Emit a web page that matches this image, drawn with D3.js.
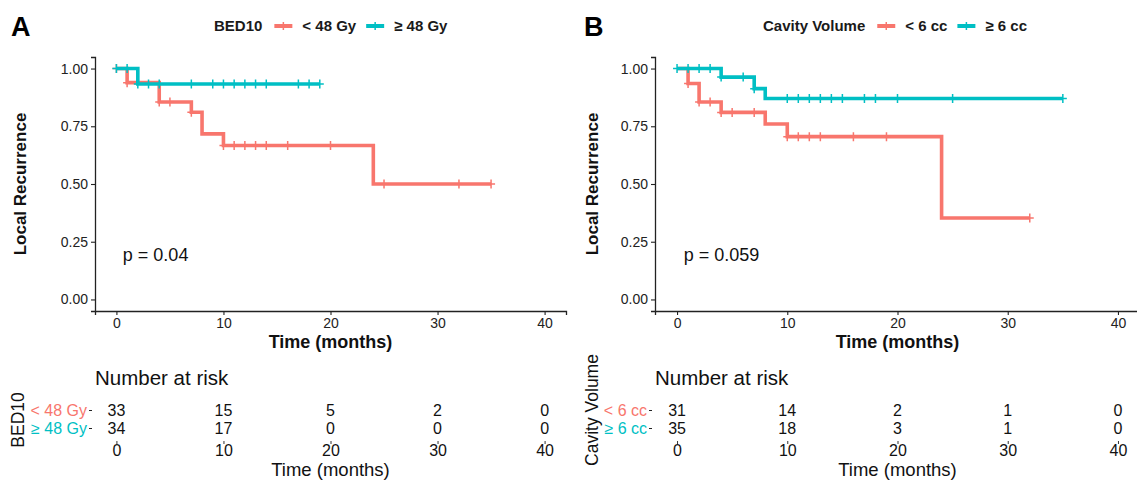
<!DOCTYPE html>
<html><head><meta charset="utf-8">
<script src="https://cdn.jsdelivr.net/npm/d3@7"></script>
<style>
body{margin:0;background:#fff;}
svg{font-family:"Liberation Sans",Arial,sans-serif;}
</style></head>
<body><svg id="c" width="1137" height="482"></svg>
<script>
// ---------- data ----------
const timeTicks = [0, 10, 20, 30, 40];
const survTicks = [0, 0.25, 0.5, 0.75, 1];
const colors = ["#F8766D", "#00BFC4"];

// Panel A: BED10
const aGroups = ["< 48 Gy", "≥ 48 Gy"];
const aLowTimes = [0, 1, 4, 7, 8, 10, 24];
const aLowSurv = [1, 0.939, 0.855, 0.811, 0.717, 0.667, 0.5];
const aLowEnd = 35;
const aLowCensor = [0, 1, 4, 5, 7, 10, 11, 12, 13, 14, 16, 20, 25, 32, 35];
const aHighTimes = [0, 2];
const aHighSurv = [1, 0.933];
const aHighEnd = 19;
const aHighCensor = [0, 1, 2, 3, 4, 7, 9, 10, 11, 12, 13, 14, 17, 18, 19];
const aRiskLow = [33, 15, 5, 2, 0];
const aRiskHigh = [34, 17, 0, 0, 0];
const aPval = "p = 0.04";

// Panel B: Cavity Volume
const bGroups = ["< 6 cc", "≥ 6 cc"];
const bLowTimes = [0, 1, 2, 4, 8, 10, 24];
const bLowSurv = [1, 0.935, 0.855, 0.81, 0.76, 0.705, 0.353];
const bLowEnd = 32;
const bLowCensor = [1, 2, 3, 4, 5, 7, 10, 11, 12, 13, 16, 19, 32];
const bHighTimes = [0, 4, 7, 8];
const bHighSurv = [1, 0.963, 0.913, 0.87];
const bHighEnd = 35;
const bHighCensor = [0, 1, 2, 3, 4, 6, 7, 10, 11, 12, 13, 14, 15, 17, 18, 20, 25, 35];
const bRiskLow = [31, 14, 2, 1, 0];
const bRiskHigh = [35, 18, 3, 1, 0];
const bPval = "p = 0.059";

// ---------- drawing ----------
const svg = d3.select("#c");
const FF = "Liberation Sans, Arial, sans-serif";

function survAt(times, surv, t){
  let s = surv[0];
  for (let i=0;i<times.length;i++){ if (times[i] <= t) s = surv[i]; }
  return s;
}

function panel(cfg){
  const g = svg.append("g");
  const x = d3.scaleLinear().domain([-2, 42]).range([cfg.x0, cfg.x1]);
  const y = d3.scaleLinear().domain([-0.05, 1.05]).range([311, 57]);

  // letter
  g.append("text").attr("x", cfg.letterX).attr("y", 36).attr("font-size", 27)
    .attr("font-weight", "bold").attr("fill", "#000").text(cfg.letter);

  // legend
  const lg = g.append("g").attr("font-size", 15).attr("font-weight", "bold").attr("fill", "#1a1a1a");
  let lx = cfg.legendX;
  const ly = 26;
  const t0 = lg.append("text").attr("x", lx).attr("y", ly).attr("dy", "0.35em").text(cfg.title);
  lx += t0.node().getComputedTextLength() + 12;
  cfg.groups.forEach((name, i) => {
    lg.append("line").attr("x1", lx).attr("x2", lx+18).attr("y1", ly).attr("y2", ly)
      .attr("stroke", colors[i]).attr("stroke-width", 4);
    lg.append("line").attr("x1", lx+9).attr("x2", lx+9).attr("y1", ly-4).attr("y2", ly+4)
      .attr("stroke", colors[i]).attr("stroke-width", 1.5);
    lx += 28;
    const t = lg.append("text").attr("x", lx).attr("y", ly).attr("dy", "0.35em").text(name);
    lx += t.node().getComputedTextLength() + 10;
  });

  // axes
  const ax = g.append("g").attr("transform", `translate(0,311)`)
    .call(d3.axisBottom(x).tickValues(timeTicks).tickSize(4).tickPadding(3));
  const ay = g.append("g").attr("transform", `translate(${cfg.x0},0)`)
    .call(d3.axisLeft(y).tickValues(survTicks).tickFormat(d3.format(".2f")).tickSize(4).tickPadding(3));
  [ax, ay].forEach(a => {
    a.selectAll("path").attr("stroke", "#222").attr("stroke-width", 1.3);
    a.selectAll("line").attr("stroke", "#222").attr("stroke-width", 1.1);
    a.selectAll("text").attr("font-size", 14).attr("fill", "#222").attr("font-family", FF);
  });

  g.append("text").attr("x", x(20)).attr("y", 348).attr("text-anchor", "middle")
    .attr("font-size", 18).attr("font-weight", "bold").attr("fill", "#111").text("Time (months)");
  g.append("text").attr("transform", `translate(${cfg.yTitleX},${184}) rotate(-90)`)
    .attr("text-anchor", "middle").attr("dy", "0.35em").attr("font-size", 17).attr("font-weight", "bold")
    .attr("fill", "#111").text("Local Recurrence");

  // curves
  cfg.curves.forEach((c, i) => {
    const pts = [];
    for (let k=0;k<c.times.length;k++){
      if (k>0) pts.push([c.times[k], c.surv[k-1]]);
      pts.push([c.times[k], c.surv[k]]);
    }
    pts.push([c.end, c.surv[c.surv.length-1]]);
    g.append("path").datum(pts)
      .attr("d", d3.line().x(d=>x(d[0])).y(d=>y(d[1])))
      .attr("fill", "none").attr("stroke", colors[i]).attr("stroke-width", 3.6)
      .attr("stroke-linejoin", "miter");
    g.selectAll(null).data(c.censor).enter().append("path")
      .attr("d", d => {
        const cx = x(d), cy = y(survAt(c.times, c.surv, d));
        return `M${cx-4},${cy}H${cx+4}M${cx},${cy-4.5}V${cy+4.5}`;
      })
      .attr("stroke", colors[i]).attr("stroke-width", 1.5).attr("fill", "none");
  });

  // p value
  g.append("text").attr("x", x(0.6)).attr("y", 255).attr("dy", "0.35em")
    .attr("font-size", 18).attr("fill", "#111").text(cfg.pval);

  // risk table
  g.append("text").attr("x", cfg.x0).attr("y", 378).attr("dy", "0.35em")
    .attr("font-size", 20.5).attr("fill", "#111").text("Number at risk");
  const yr = d3.scalePoint().domain(cfg.groups).range([410, 428]);
  cfg.risk.forEach((row, i) => {
    g.selectAll(null).data(row).enter().append("text")
      .attr("x", (d, j) => x(timeTicks[j])).attr("y", yr(cfg.groups[i])).attr("dy", "0.35em")
      .attr("text-anchor", "middle").attr("font-size", 16).attr("fill", "#111").text(d => d);
  });
  const ry = g.append("g").attr("transform", `translate(${cfg.x0-3},0)`)
    .call(d3.axisLeft(yr).tickSize(3).tickPadding(2));
  ry.select(".domain").remove();
  ry.selectAll("line").attr("stroke", "#222");
  ry.selectAll("text").attr("font-size", 16).attr("font-family", FF)
    .attr("fill", (d, i) => colors[i]);
  const rx = g.append("g").attr("transform", `translate(0,441)`)
    .call(d3.axisBottom(x).tickValues(timeTicks).tickSize(3).tickPadding(1));
  rx.select(".domain").remove();
  rx.selectAll("line").attr("stroke", "#333");
  rx.selectAll("text").attr("font-size", 16).attr("fill", "#111").attr("font-family", FF);
  g.append("text").attr("x", x(20)).attr("y", 470).attr("dy", "0.35em").attr("text-anchor", "middle")
    .attr("font-size", 18.5).attr("fill", "#111").text("Time (months)");
  g.append("text").attr("transform", `translate(${cfg.riskTitleX},${cfg.riskTitleY}) rotate(-90)`)
    .attr("text-anchor", "middle").attr("dy", "0.35em").attr("font-size", 17.5).attr("fill", "#111")
    .text(cfg.title);
}

panel({
  letter: "A", letterX: 11, legendX: 214, title: "BED10", groups: aGroups,
  x0: 95, x1: 566, pval: aPval, yTitleX: 20,
  curves: [
    {times: aLowTimes, surv: aLowSurv, end: aLowEnd, censor: aLowCensor},
    {times: aHighTimes, surv: aHighSurv, end: aHighEnd, censor: aHighCensor}
  ],
  risk: [aRiskLow, aRiskHigh], riskTitleX: 18, riskTitleY: 420
});
panel({
  letter: "B", letterX: 584, legendX: 763, title: "Cavity Volume", groups: bGroups,
  x0: 655, x1: 1140, pval: bPval, yTitleX: 592,
  curves: [
    {times: bLowTimes, surv: bLowSurv, end: bLowEnd, censor: bLowCensor},
    {times: bHighTimes, surv: bHighSurv, end: bHighEnd, censor: bHighCensor}
  ],
  risk: [bRiskLow, bRiskHigh], riskTitleX: 592, riskTitleY: 410
});
</script></body></html>
